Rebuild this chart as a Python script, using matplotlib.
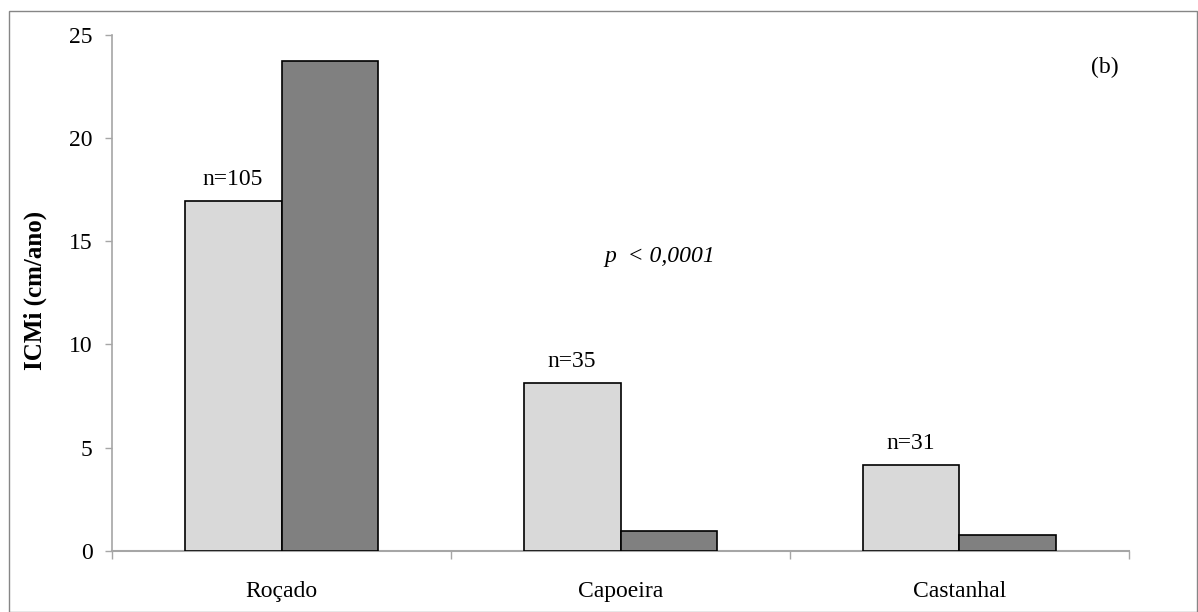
import matplotlib
matplotlib.use('Agg')
import matplotlib.pyplot as plt
from matplotlib.patches import Rectangle
import numpy as np

# values
areas = ['Roçado', 'Capoeira', 'Castanhal']
serie_clara = [16.95, 8.11, 4.15]
serie_escura = [23.72, 0.94, 0.76]
n_labels = ['n=105', 'n=35', 'n=31']
y_ticks = [0, 5, 10, 15, 20, 25]

plt.rcParams['font.family'] = ['Liberation Serif', 'DejaVu Serif']
fs = 17

fig = plt.figure(figsize=(11.98, 6.12), dpi=100)
ax = fig.add_axes([0.0935, 0.1002, 0.8489, 0.8426])

x = np.arange(len(areas))
w = 0.286  # excel gap width 150%

ax.bar(x - w / 2, serie_clara, w, color='#d9d9d9', edgecolor='black', linewidth=1.2, zorder=3)
ax.bar(x + w / 2, serie_escura, w, color='#808080', edgecolor='black', linewidth=1.2, zorder=3)

for xi, yi, lab in zip(x, serie_clara, n_labels):
	ax.text(xi - w / 2, yi + 0.55, lab, ha='center', va='bottom', fontsize=fs)

ax.text(1.116, 14.24, 'p  < 0,0001', fontsize=fs, ha='center', va='center', style='italic')
ax.text(2.43, 23.45, '(b)', fontsize=fs, ha='center', va='center')

ax.set_xlim(-0.5, 2.5)
ax.set_ylim(0, 25)
ax.set_yticks(y_ticks)
ax.set_xticks(x)
ax.set_xticklabels(areas)
ax.set_xticks([-0.5, 0.5, 1.5, 2.5], minor=True)

for s in ['top', 'right']:
	ax.spines[s].set_visible(False)
ax.spines['left'].set_color('#a6a6a6')
ax.spines['bottom'].set_color('#a6a6a6')
ax.spines['left'].set_linewidth(1.2)
ax.spines['bottom'].set_linewidth(1.5)

ax.tick_params(axis='y', length=5, width=1, color='#a6a6a6', labelsize=fs, pad=9)
ax.tick_params(axis='x', which='major', length=0, labelsize=fs, pad=22)
ax.tick_params(axis='x', which='minor', length=6, width=1, color='#a6a6a6')

fig.text(35 / 1198, 1 - 290 / 612, 'ICMi (cm/ano)', rotation=90, ha='center', va='center',
	fontsize=18, fontweight='bold')

# thin frame around the whole chart area
fig.add_artist(Rectangle((9 / 1198, 0.5 / 612), 1188 / 1198, 601 / 612, transform=fig.transFigure,
	fill=False, edgecolor='#868686', linewidth=1))

fig.savefig('out.png', dpi=100)
